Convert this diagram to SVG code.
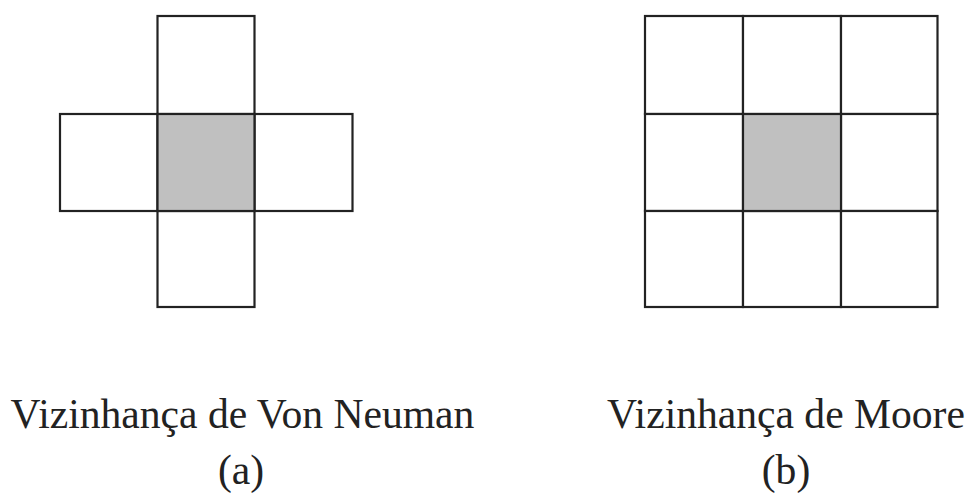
<svg xmlns="http://www.w3.org/2000/svg" width="970" height="497" viewBox="0 0 970 497">
<style>
.cell{fill:#fff;stroke:#222;stroke-width:2.2}
.center{fill:#c0c0c0;stroke:#222;stroke-width:2.2}
.lbl{font-family:"Liberation Serif","Times New Roman",serif;font-size:41.6px;fill:#222;text-anchor:middle}
</style>
<rect width="970" height="497" fill="#fff"/>
<g id="vonneumann">
<rect class="cell" x="157.5" y="16" width="97" height="98"/>
<rect class="cell" x="60" y="114" width="97.5" height="97"/>
<rect class="cell" x="254.5" y="114" width="98" height="97"/>
<rect class="cell" x="157.5" y="211" width="97" height="96"/>
<rect class="center" x="157.5" y="114" width="97" height="97"/>
</g>
<g id="moore">
<rect class="cell" x="645" y="16" width="98" height="98"/>
<rect class="cell" x="743" y="16" width="98" height="98"/>
<rect class="cell" x="841" y="16" width="96.5" height="98"/>
<rect class="cell" x="645" y="114" width="98" height="97"/>
<rect class="cell" x="841" y="114" width="96.5" height="97"/>
<rect class="cell" x="645" y="211" width="98" height="96"/>
<rect class="cell" x="743" y="211" width="98" height="96"/>
<rect class="cell" x="841" y="211" width="96.5" height="96"/>
<rect class="center" x="743" y="114" width="98" height="97"/>
</g>
<g id="label-a">
<text class="lbl" x="242.5" y="428">Vizinhança de Von Neuman</text>
<text class="lbl" x="241" y="484">(a)</text>
</g>
<g id="label-b">
<text class="lbl" x="786" y="428">Vizinhança de Moore</text>
<text class="lbl" x="786" y="484">(b)</text>
</g>
</svg>
